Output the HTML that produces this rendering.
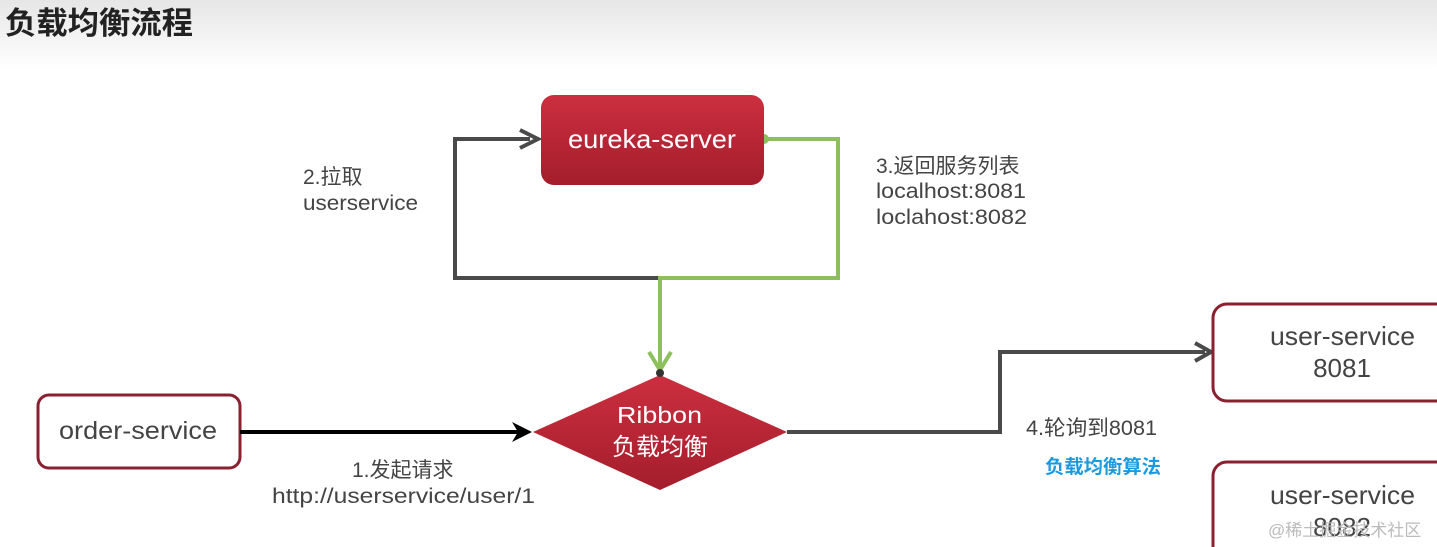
<!DOCTYPE html>
<html><head><meta charset="utf-8"><style>
html,body{margin:0;padding:0;background:#fff;}
svg{display:block;}
text{font-family:"Liberation Sans","Noto Sans CJK SC",sans-serif;}
</style></head><body>
<svg width="1437" height="547" viewBox="0 0 1437 547" xmlns="http://www.w3.org/2000/svg">
<defs>
<linearGradient id="hd" x1="0" y1="0" x2="0" y2="1">
<stop offset="0" stop-color="#e6e6e6"/><stop offset="1" stop-color="#ffffff"/></linearGradient>
<linearGradient id="rd" x1="0" y1="0" x2="0" y2="1">
<stop offset="0" stop-color="#cc2f3f"/><stop offset="1" stop-color="#a41d2c"/></linearGradient>
</defs>
<rect x="0" y="0" width="1437" height="70" fill="url(#hd)"/>
<text x="5" y="34" font-size="31" font-weight="bold" fill="#222" textLength="188" lengthAdjust="spacingAndGlyphs">负载均衡流程</text>

<polyline points="660,278 455,278 455,139 530,139" fill="none" stroke="#4a4a4a" stroke-width="4"/>
<polyline points="520,130 538,139 520,148" fill="none" stroke="#4a4a4a" stroke-width="4"/>
<polyline points="764,139 838,139 838,278 660,278 660,368" fill="none" stroke="#8dc05c" stroke-width="4"/>
<polyline points="649,352 660,370 671,352" fill="none" stroke="#8dc05c" stroke-width="4"/>
<circle cx="764" cy="139" r="5" fill="#8dc05c"/>

<rect x="541" y="95" width="223" height="90" rx="13" fill="url(#rd)"/>
<text x="568" y="148" font-size="26" fill="#fff" textLength="168" lengthAdjust="spacingAndGlyphs">eureka-server</text>

<polygon points="533,432 660,375 787,432 660,490" fill="url(#rd)"/>
<circle cx="660" cy="373" r="4" fill="#333"/>
<text x="617" y="423" font-size="23" fill="#fff" textLength="85" lengthAdjust="spacingAndGlyphs">Ribbon</text>
<text x="660" y="455" font-size="24" fill="#fff" text-anchor="middle">负载均衡</text>

<rect x="38" y="395" width="202" height="73" rx="11" fill="#fff" stroke="#8b2030" stroke-width="3"/>
<text x="59" y="439" font-size="25" fill="#444" textLength="158" lengthAdjust="spacingAndGlyphs">order-service</text>
<line x1="240" y1="432" x2="528" y2="432" stroke="#000" stroke-width="4"/>
<polygon points="512,422 532,432 512,442 518,432" fill="#000"/>

<polyline points="787,432 1000,432 1000,352 1205,352" fill="none" stroke="#4a4a4a" stroke-width="4"/>
<polyline points="1195,343 1211,352 1195,361" fill="none" stroke="#4a4a4a" stroke-width="4"/>

<rect x="1213" y="304" width="240" height="97" rx="14" fill="#fff" stroke="#8b2030" stroke-width="3"/>
<text x="1270" y="345" font-size="26" fill="#444" textLength="145" lengthAdjust="spacingAndGlyphs">user-service</text>
<text x="1342" y="377" font-size="26" fill="#444" text-anchor="middle">8081</text>
<rect x="1213" y="462" width="240" height="110" rx="14" fill="#fff" stroke="#8b2030" stroke-width="3"/>
<text x="1270" y="504" font-size="26" fill="#444" textLength="145" lengthAdjust="spacingAndGlyphs">user-service</text>
<text x="1342" y="536" font-size="26" fill="#444" text-anchor="middle">8082</text>
<text x="1268" y="536" font-size="17" fill="#bbb">@稀土掘金技术社区</text>

<text x="303" y="184" font-size="21" fill="#444">2.拉取</text>
<text x="303" y="210" font-size="21" fill="#444" textLength="115" lengthAdjust="spacingAndGlyphs">userservice</text>
<text x="876" y="173" font-size="21" fill="#444">3.返回服务列表</text>
<text x="876" y="198" font-size="21" fill="#444" textLength="150" lengthAdjust="spacingAndGlyphs">localhost:8081</text>
<text x="876" y="224" font-size="21" fill="#444" textLength="151" lengthAdjust="spacingAndGlyphs">loclahost:8082</text>
<text x="352" y="477" font-size="21" fill="#444">1.发起请求</text>
<text x="272" y="503" font-size="21" fill="#444" textLength="263" lengthAdjust="spacingAndGlyphs">http://userservice/user/1</text>
<text x="1026" y="435" font-size="21" fill="#444" textLength="131" lengthAdjust="spacingAndGlyphs">4.轮询到8081</text>
<text x="1045" y="473" font-size="19" font-weight="bold" fill="#1a9be0" textLength="116" lengthAdjust="spacingAndGlyphs">负载均衡算法</text>
</svg>
</body></html>
